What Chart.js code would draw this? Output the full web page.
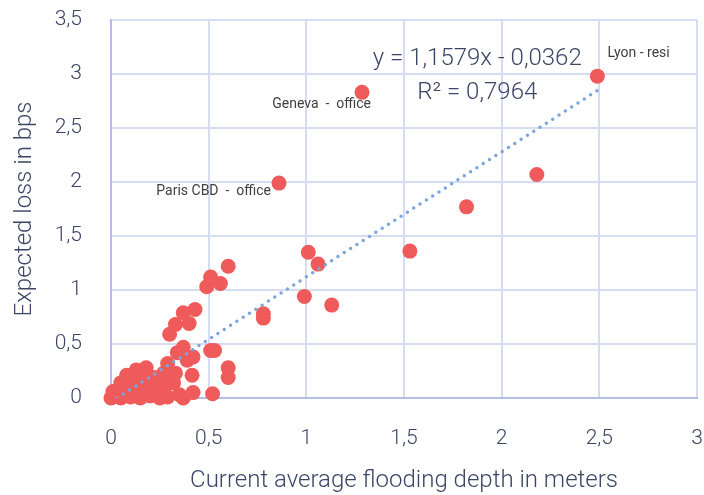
<!DOCTYPE html>
<html>
<head>
<meta charset="utf-8">
<script src="https://cdn.jsdelivr.net/npm/chart.js@4"></script>
<style>
  html, body { margin: 0; padding: 0; background: #fff; }
  #wrap { width: 704px; height: 495px; }
</style>
</head>
<body>
<div id="wrap"><canvas id="floodChart"></canvas></div>
<script>
// Flooding depth (m) vs expected loss (bps)
const depth = [
  0.00, 0.01, 0.02, 0.01, 0.04, 0.05, 0.05, 0.05, 0.07, 0.08,
  0.09, 0.10, 0.11, 0.12, 0.13, 0.13, 0.15, 0.16, 0.17, 0.18,
  0.19, 0.20, 0.22, 0.22, 0.24, 0.25, 0.26, 0.27, 0.27, 0.29,
  0.29, 0.30, 0.32, 0.33, 0.33, 0.34, 0.35, 0.37, 0.37, 0.37,
  0.39, 0.40, 0.42, 0.415, 0.42, 0.43, 0.49, 0.51, 0.51, 0.52,
  0.53, 0.56, 0.60, 0.60, 0.60, 0.78, 0.78, 0.86, 0.99, 1.01,
  1.06, 1.13, 1.285, 1.53, 1.82, 2.18, 2.49
];
const loss = [
  0.00, 0.01, 0.03, 0.06, 0.02, 0.00, 0.09, 0.14, 0.05, 0.21,
  0.12, 0.01, 0.14, 0.04, 0.26, 0.20, 0.00, 0.10, 0.05, 0.28,
  0.17, 0.02, 0.19, 0.08, 0.12, 0.00, 0.18, 0.06, 0.23, 0.01,
  0.32, 0.59, 0.14, 0.23, 0.68, 0.42, 0.03, 0.47, 0.00, 0.79,
  0.35, 0.69, 0.38, 0.21, 0.05, 0.82, 1.03, 1.12, 0.44, 0.04,
  0.44, 1.06, 1.22, 0.28, 0.19, 0.78, 0.74, 1.99, 0.94, 1.35,
  1.24, 0.86, 2.83, 1.36, 1.77, 2.07, 2.98
];

// Linear trendline as shown on the chart
const slope = 1.1579;
const intercept = -0.0362;
const trendX = [0.03, 2.49];

// Point labels
const labelTexts = ["Lyon - resi", "Geneva  -  office", "Paris CBD  -  office"];
const labelX = [2.49, 1.285, 0.86];
const labelY = [2.98, 2.83, 1.99];

const equationText = "y = 1,1579x - 0,0362";
const r2Text = "R\u00B2 = 0,7964";

const textColor = "#3b4565";
const fmt = v => String(v).replace(".", ",");

const points = depth.map((x, i) => ({ x: x, y: loss[i] }));
const trend = trendX.map(x => ({ x: x, y: slope * x + intercept }));

// Draw labels and regression text
const annotations = {
  id: "annotations",
  afterDatasetsDraw(chart) {
    const { ctx, scales } = chart;
    const xs = scales.x, ys = scales.y;
    ctx.save();
    ctx.font = "14px Roboto";
    ctx.fillStyle = "#404040";
    ctx.textBaseline = "middle";
    // Lyon
    ctx.textAlign = "left";
    ctx.fillText(labelTexts[0], xs.getPixelForValue(labelX[0]) + 10, ys.getPixelForValue(labelY[0]) - 23);
    // Geneva
    ctx.textAlign = "right";
    ctx.fillText(labelTexts[1], xs.getPixelForValue(labelX[1]) + 9, ys.getPixelForValue(labelY[1]) + 12);
    // Paris
    ctx.fillText(labelTexts[2], xs.getPixelForValue(labelX[2]) - 8, ys.getPixelForValue(labelY[2]) + 8);

    ctx.font = "300 24px Roboto";
    ctx.fillStyle = textColor;
    ctx.textAlign = "center";
    ctx.fillText(equationText, xs.getPixelForValue(1.875), ys.getPixelForValue(3.14));
    ctx.fillText(r2Text, xs.getPixelForValue(1.875), ys.getPixelForValue(2.82));
    ctx.restore();
  }
};

function noPad(scale) {
  scale.paddingTop = 0;
  scale.paddingBottom = 0;
  scale.paddingLeft = 0;
  scale.paddingRight = 0;
}

const ctx = document.getElementById("floodChart").getContext("2d");
const floodChart = new Chart(ctx, {
  type: "scatter",
  data: {
    datasets: [
      {
        type: "line",
        label: "Trend",
        data: trend,
        borderColor: "#7ba6dc",
        borderWidth: 3.5,
        borderDash: [0, 7.5],
        borderCapStyle: "round",
        pointRadius: 0,
        fill: false,
        order: 0,
      },
      {
        label: "Assets",
        data: points,
        backgroundColor: "#ef5a5a",
        borderWidth: 0,
        pointRadius: 7.5,
        pointHoverRadius: 7.5,
        clip: false,
        order: 1,
      },
    ],
  },
  options: {
    responsive: true,
    maintainAspectRatio: false,
    animation: false,
    layout: {
      autoPadding: false,
      padding: { top: 20, right: 7, left: 0, bottom: 0 },
    },
    plugins: {
      legend: { display: false },
      tooltip: { enabled: false },
    },
    scales: {
      x: {
        type: "linear",
        min: 0,
        max: 3,
        ticks: {
          stepSize: 0.5,
          padding: 28,
          color: textColor,
          font: { family: "Roboto", weight: "300", size: 21 },
          callback: v => fmt(v),
        },
        grid: { color: "#d6dcf1", lineWidth: 2, drawTicks: false },
        border: { color: "#b4bde6", width: 2 },
        title: {
          display: true,
          text: "Current average flooding depth in meters",
          color: textColor,
          font: { family: "Roboto", weight: "300", size: 24 },
          padding: { top: 0, bottom: 0 },
        },
        afterFit: scale => { scale.height = 97; noPad(scale); },
      },
      y: {
        type: "linear",
        min: 0,
        max: 3.5,
        ticks: {
          stepSize: 0.5,
          padding: 29,
          color: textColor,
          font: { family: "Roboto", weight: "300", size: 21 },
          callback: v => fmt(v),
        },
        grid: { color: "#d6dcf1", lineWidth: 2, drawTicks: false },
        border: { color: "#b4bde6", width: 2 },
        title: {
          display: true,
          text: "Expected loss in bps",
          color: textColor,
          font: { family: "Roboto", weight: "300", size: 24 },
          padding: { top: 11, bottom: 0 },
        },
        afterFit: scale => { scale.width = 111; noPad(scale); },
      },
    },
  },
  plugins: [annotations],
});
</script>
</body>
</html>
